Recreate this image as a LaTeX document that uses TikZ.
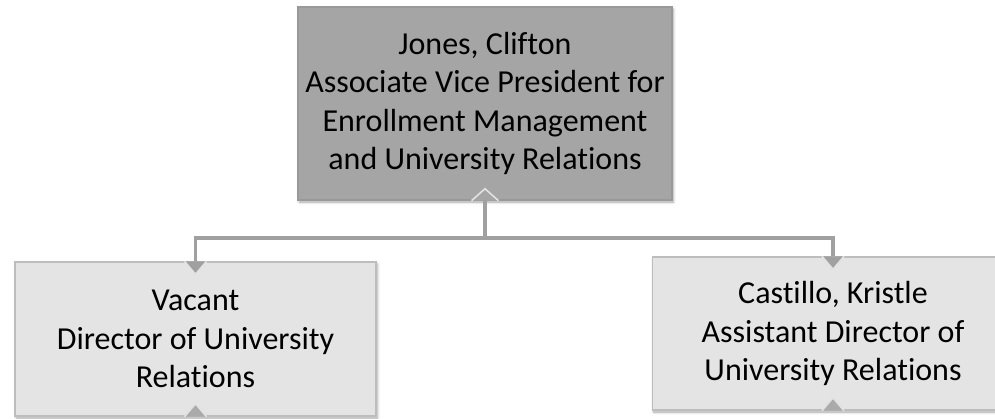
\documentclass[tikz,border=0pt]{standalone}
\usepackage{fontspec}
\setmainfont{Carlito}[Ligatures=NoCommon]
\usepackage{tikz}
\usetikzlibrary{calc, shadows.blur}
\definecolor{bossgray}{HTML}{A5A5A5}
\definecolor{staffgray}{HTML}{E4E4E4}
\definecolor{edgegray}{HTML}{BDBDBD}
\definecolor{linkgray}{HTML}{A0A0A0}
\definecolor{notchgray}{HTML}{E2E2E2}
\tikzset{>=latex}
\tikzset{
    unit/.style={draw=edgegray, line width=1.1pt, inner sep=0pt, align=center,
        font=\fontsize{24}{28.9}\selectfont,
        blur shadow={shadow xshift=1pt, shadow yshift=-1.5pt, shadow blur radius=2pt, shadow opacity=35}},
    head/.style={unit, fill=bossgray, draw=gray!80, minimum width=280.5pt, minimum height=144.75pt},
    staff/.style={unit, fill=staffgray, minimum width=271pt, minimum height=115.5pt},
    link/.style={draw=linkgray, line width=2.5pt},
    notch/.style={draw=notchgray, line width=1.2pt, line join=miter},
}

\begin{document}
\begin{tikzpicture}[x=0.75pt, y=-0.75pt]
    \useasboundingbox (0,0) rectangle (995,418);
    \node[head] (jones) at (485,103.5) {Jones, Clifton\\Associate Vice President for\\Enrollment Management\\and University Relations};
    \node[staff] (vacant) at (195.5,339) {Vacant\\Director of University\\Relations};
    \node[staff, minimum height=114.75pt] (castillo) at (833,333.5) {Castillo, Kristle\\Assistant Director of\\University Relations};
    \coordinate (bus) at (485,238);
    \draw[link] (jones.south) -- (jones.south |- bus);
    \draw[link] (vacant.north) -- (vacant.north |- bus) -- (castillo.north |- bus) -- (castillo.north);
    % arrow notches
    \filldraw[notch, fill=bossgray] ($(jones.south)+(-13.5,0)$) -- ($(jones.south)+(0,-12)$) -- ($(jones.south)+(13.5,0)$);
    \foreach \n in {vacant, castillo} {
        \filldraw[notch, fill=linkgray] ($(\n.north)+(-11,0)$) -- ($(\n.north)+(0,13)$) -- ($(\n.north)+(11,0)$);
        \filldraw[notch, fill=linkgray!90] ($(\n.south)+(-11,0)$) -- ($(\n.south)+(0,-13)$) -- ($(\n.south)+(11,0)$);
    }
\end{tikzpicture}
\end{document}
